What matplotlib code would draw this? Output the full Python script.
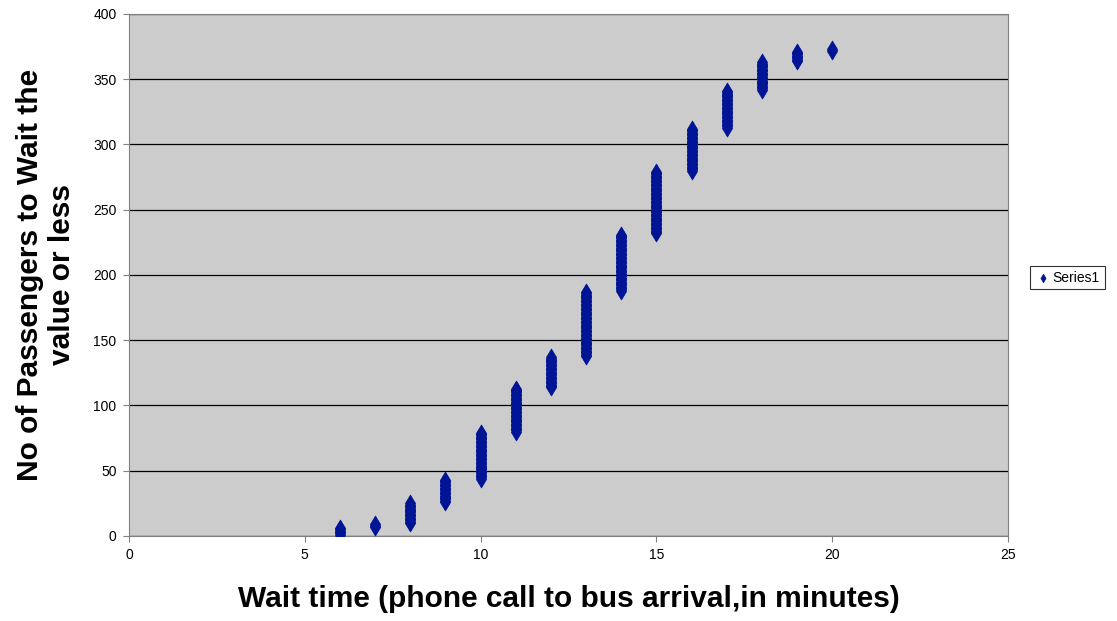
import numpy as np
import matplotlib
matplotlib.use("Agg")
import matplotlib.pyplot as plt

plt.rcParams['font.family'] = ['Liberation Sans', 'DejaVu Sans']

# Temps d'attente (minutes) et nombre de passagers pour chaque minute
wait_minutes = [6, 7, 8, 9, 10, 11, 12, 13, 14, 15, 16, 17, 18, 19, 20]
passenger_counts = [6, 3, 16, 18, 36, 34, 24, 50, 44, 48, 33, 29, 22, 8, 2]

# Chaque passager : son temps d'attente et son rang cumulé
x_vals = np.repeat(wait_minutes, passenger_counts)
y_vals = np.arange(1, len(x_vals) + 1)

fig = plt.figure(figsize=(11.17, 6.21), dpi=100)
ax = fig.add_axes([0.1155, 0.1369, 0.9024 - 0.1155, 0.9775 - 0.1369])
ax.set_facecolor('#CCCCCC')

ax.scatter(x_vals, y_vals, marker='d', s=75, color='#001496', edgecolors='#001496',
           linewidths=0.5, label='Series1', zorder=3)

ax.set_xlim(0, 25)
ax.set_ylim(0, 400)
ax.set_xticks(range(0, 26, 5))
ax.set_yticks(range(0, 401, 50))
ax.yaxis.grid(True, color='black', linewidth=0.9)
ax.set_axisbelow(True)
ax.tick_params(labelsize=10, direction='out', length=4, color='#808080', pad=5)

for side in ['left', 'bottom', 'top', 'right']:
    ax.spines[side].set_color('#808080')

ax.set_xlabel("Wait time (phone call to bus arrival,in minutes)", fontsize=21.5,
              fontweight='bold', labelpad=16)
ax.set_ylabel("No of Passengers to Wait the\nvalue or less", fontsize=21.5,
              fontweight='bold', labelpad=12)

leg = fig.legend(loc='center left', bbox_to_anchor=(0.922, 0.553), fontsize=10,
                 frameon=True, fancybox=False, edgecolor='black', handletextpad=0.1,
                 handlelength=1.2, borderpad=0.35, borderaxespad=0.0, markerscale=0.5)
leg.get_frame().set_linewidth(0.8)

fig.savefig('out.png', dpi=100)
